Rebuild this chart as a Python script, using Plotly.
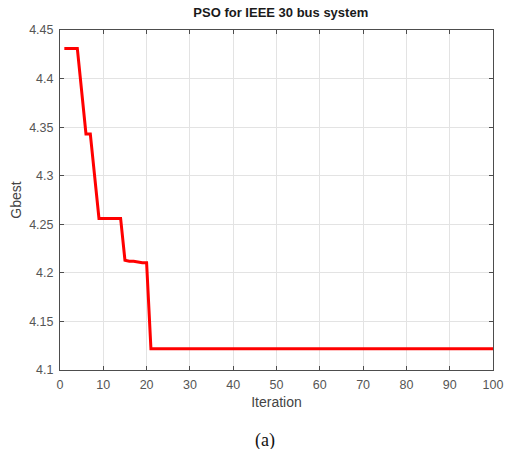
import plotly.graph_objects as go

iterations = list(range(1, 101))
gbest_head = [4.431, 4.431, 4.431, 4.431, 4.387, 4.343, 4.343, 4.298, 4.256,
              4.256, 4.256, 4.256, 4.256, 4.256, 4.213, 4.212, 4.212, 4.211,
              4.2105, 4.2105]
gbest_tail_value = 4.122
gbest = gbest_head + [gbest_tail_value] * (len(iterations) - len(gbest_head))

x_ticks = [0, 10, 20, 30, 40, 50, 60, 70, 80, 90, 100]
y_ticks = [4.1, 4.15, 4.2, 4.25, 4.3, 4.35, 4.4, 4.45]
y_tick_text = ["4.1", "4.15", "4.2", "4.25", "4.3", "4.35", "4.4", "4.45"]

fig = go.Figure()
fig.add_trace(go.Scatter(x=iterations, y=gbest, mode="lines",
                         line=dict(color="#ff0000", width=3), showlegend=False))

axis_common = dict(showline=True, linecolor="#4d4d4d", linewidth=1, mirror="ticks",
                   ticks="inside", ticklen=4, tickcolor="#4d4d4d", automargin=False,
                   showgrid=True, gridcolor="#e3e3e3", gridwidth=1, zeroline=False,
                   tickfont=dict(family="Liberation Sans, Arial", size=12.5, color="#555555"))

fig.update_layout(
    width=505, height=449,
    margin=dict(l=60, r=12, t=30, b=79),
    paper_bgcolor="white", plot_bgcolor="white",
    title=dict(text="<b>PSO for IEEE 30 bus system</b>", x=0.556, xanchor="center",
               y=0.973, yanchor="middle", automargin=False,
               font=dict(family="Liberation Sans, Arial", size=13, color="#1a1a1a")),
    xaxis=dict(range=[0, 100], tickvals=x_ticks, ticklabelstandoff=3,
               title=dict(text="Iteration", standoff=6,
                          font=dict(family="Liberation Sans, Arial", size=14, color="#444444")),
               **axis_common),
    yaxis=dict(range=[4.1, 4.45], tickvals=y_ticks, ticktext=y_tick_text, ticklabelstandoff=3,
               title=dict(text="Gbest", standoff=4,
                          font=dict(family="Liberation Sans, Arial", size=14, color="#444444")),
               **axis_common),
)

fig.add_annotation(text="(a)", xref="paper", yref="paper", x=0.473, y=-0.206,
                   xanchor="center", yanchor="middle", showarrow=False,
                   font=dict(family="Liberation Serif, Times New Roman", size=18, color="#111111"))

fig.write_html("out.html", config={"displayModeBar": False},
               post_script="document.body.style.margin = '0';")
